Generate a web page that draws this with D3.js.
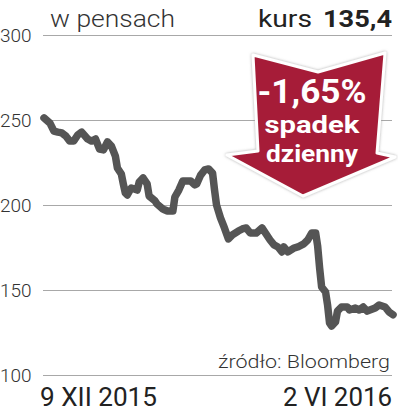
<!DOCTYPE html>
<html>
<head>
<meta charset="utf-8">
<script src="https://cdn.jsdelivr.net/npm/d3@7"></script>
<style>
  body { margin: 0; background: #fff; }
  text { font-family: Roboto, "Noto Sans", sans-serif; }
</style>
</head>
<body>
<div id="chart"></div>
<script>
// set the dimensions of the graph
var width = 398;
var height = 412;

// daily close, in pence
var dates = ["2015-12-09","2015-12-12","2015-12-14","2015-12-16","2015-12-18","2015-12-20","2015-12-22","2015-12-24",
  "2015-12-26","2015-12-28","2015-12-31","2016-01-02","2016-01-04","2016-01-06","2016-01-08","2016-01-10","2016-01-12",
  "2016-01-14","2016-01-15","2016-01-17","2016-01-18","2016-01-19","2016-01-20","2016-01-22","2016-01-25","2016-01-26",
  "2016-01-28","2016-01-30","2016-01-31","2016-02-03","2016-02-04","2016-02-07","2016-02-08","2016-02-09","2016-02-12",
  "2016-02-13","2016-02-15","2016-02-17","2016-02-18","2016-02-21","2016-02-23","2016-02-24","2016-02-26","2016-02-28",
  "2016-03-01","2016-03-03","2016-03-04","2016-03-05","2016-03-07","2016-03-09","2016-03-11","2016-03-13","2016-03-16",
  "2016-03-18","2016-03-20","2016-03-22","2016-03-25","2016-03-28","2016-03-30","2016-04-01","2016-04-03","2016-04-05",
  "2016-04-07","2016-04-08","2016-04-10","2016-04-13","2016-04-15","2016-04-18","2016-04-20","2016-04-22","2016-04-24",
  "2016-04-25","2016-04-26","2016-04-27","2016-04-29","2016-04-30","2016-05-01","2016-05-02","2016-05-04","2016-05-05",
  "2016-05-07","2016-05-10","2016-05-11","2016-05-14","2016-05-16","2016-05-18","2016-05-20","2016-05-24","2016-05-26",
  "2016-05-29","2016-05-31","2016-06-02"];
var prices = [251.2,248.2,243.5,242.9,242.4,240.6,237.6,237.6,
  241.2,242.9,238.8,237.6,238.8,232.9,232.4,237.1,234.7,
  228.8,221.8,218.2,212.4,207.1,205.9,210.0,208.8,213.5,
  215.9,212.4,205.3,202.4,200.6,197.6,197.1,196.5,196.5,
  204.7,208.8,214.1,214.1,214.1,211.8,212.4,217.6,220.6,
  221.2,218.8,208.8,200.0,192.4,186.5,180.0,182.4,184.7,
  185.9,186.5,183.5,183.5,186.5,182.9,179.4,176.5,175.3,
  172.4,175.3,172.4,174.7,175.3,177.1,179.4,183.5,183.5,
  175.9,162.9,151.8,148.8,141.2,130.6,128.8,131.2,137.6,
  140.0,140.0,138.2,139.4,138.2,140.0,137.6,139.4,141.2,
  140.0,137.1,135.4];

var yTicks = [100, 150, 200, 250, 300];
var xLabels = ["9 XII 2015", "2 VI 2016"];

var parseDate = d3.timeParse("%Y-%m-%d");
var data = dates.map(function (d, i) { return { date: parseDate(d), value: prices[i] }; });

var svg = d3.select("#chart")
  .append("svg")
    .attr("width", width)
    .attr("height", height);

var x = d3.scaleTime()
  .domain(d3.extent(data, function (d) { return d.date; }))
  .range([44, 393]);

var y = d3.scaleLinear()
  .domain([100, 300])
  .range([375, 35]);

// grid lines + labels
svg.append("g")
  .selectAll("line")
  .data(yTicks)
  .enter()
  .append("line")
    .attr("x1", 43)
    .attr("x2", 392)
    .attr("y1", function (d) { return y(d) + 0.5; })
    .attr("y2", function (d) { return y(d) + 0.5; })
    .attr("stroke", "#a8a8a8")
    .attr("stroke-width", 1);

svg.append("g")
  .selectAll("text")
  .data(yTicks)
  .enter()
  .append("text")
    .attr("x", 0)
    .attr("y", function (d) { return y(d) + 7; })
    .attr("fill", "#333")
    .style("font-size", "19px")
    .style("font-weight", 300)
    .text(function (d) { return d; });

// header
svg.append("text")
  .attr("x", 50).attr("y", 27)
  .attr("fill", "#333")
  .style("font-size", "24px").style("font-weight", 300)
  .attr("textLength", 125).attr("lengthAdjust", "spacingAndGlyphs")
  .text("w pensach");

svg.append("text")
  .attr("x", 258).attr("y", 27)
  .attr("fill", "#222")
  .style("font-size", "24px")
  .attr("textLength", 54).attr("lengthAdjust", "spacingAndGlyphs")
  .text("kurs");

svg.append("text")
  .attr("x", 323).attr("y", 27)
  .attr("fill", "#222")
  .style("font-size", "24px").style("font-weight", 700)
  .attr("textLength", 69).attr("lengthAdjust", "spacingAndGlyphs")
  .text("135,4");

// price line
var line = d3.line()
  .x(function (d) { return x(d.date); })
  .y(function (d) { return y(d.value); });

svg.append("path")
  .datum(data)
  .attr("d", line)
  .attr("fill", "none")
  .attr("stroke", "#555")
  .attr("stroke-width", 7.5)
  .attr("stroke-linejoin", "round")
  .attr("stroke-linecap", "round");

// red arrow badge
var defs = svg.append("defs");
var shadow = defs.append("filter").attr("id", "shadow")
  .attr("x", "-20%").attr("y", "-20%").attr("width", "140%").attr("height", "140%");
shadow.append("feDropShadow")
  .attr("dx", 0).attr("dy", 0).attr("stdDeviation", 1.5)
  .attr("flood-color", "#888").attr("flood-opacity", 0.7);

var arrowPts = [[253,55],[318,72],[385,53],[377,153],[395,157],[303,196],[227,155],[258,151]];
svg.append("polygon")
  .attr("points", arrowPts.map(function (p) { return p.join(","); }).join(" "))
  .attr("fill", "#a61f38")
  .attr("stroke", "#fff")
  .attr("stroke-width", 3)
  .attr("stroke-linejoin", "round")
  .attr("filter", "url(#shadow)");

var badge = [
  { t: "-1,65%", y: 103, size: 33, w: 109 },
  { t: "spadek", y: 133, size: 24, w: 95 },
  { t: "dzienny", y: 162, size: 24, w: 92 }
];
svg.append("g")
  .selectAll("text")
  .data(badge)
  .enter()
  .append("text")
    .attr("x", 312)
    .attr("y", function (d) { return d.y; })
    .attr("text-anchor", "middle")
    .attr("fill", "#fff")
    .style("font-weight", 700)
    .style("font-size", function (d) { return d.size + "px"; })
    .attr("textLength", function (d) { return d.w; })
    .attr("lengthAdjust", "spacingAndGlyphs")
    .text(function (d) { return d.t; });

// source
svg.append("text")
  .attr("x", 390).attr("y", 368)
  .attr("text-anchor", "end")
  .attr("fill", "#333")
  .style("font-size", "18px").style("font-weight", 300)
  .attr("textLength", 172).attr("lengthAdjust", "spacingAndGlyphs")
  .text("źródło: Bloomberg");

// date labels at both ends
svg.append("text")
  .attr("x", 40).attr("y", 406)
  .attr("fill", "#222")
  .style("font-size", "25px")
  .attr("textLength", 117).attr("lengthAdjust", "spacingAndGlyphs")
  .text(xLabels[0]);

svg.append("text")
  .attr("x", 392).attr("y", 406)
  .attr("text-anchor", "end")
  .attr("fill", "#222")
  .style("font-size", "25px")
  .attr("textLength", 109).attr("lengthAdjust", "spacingAndGlyphs")
  .text(xLabels[1]);
</script>
</body>
</html>
